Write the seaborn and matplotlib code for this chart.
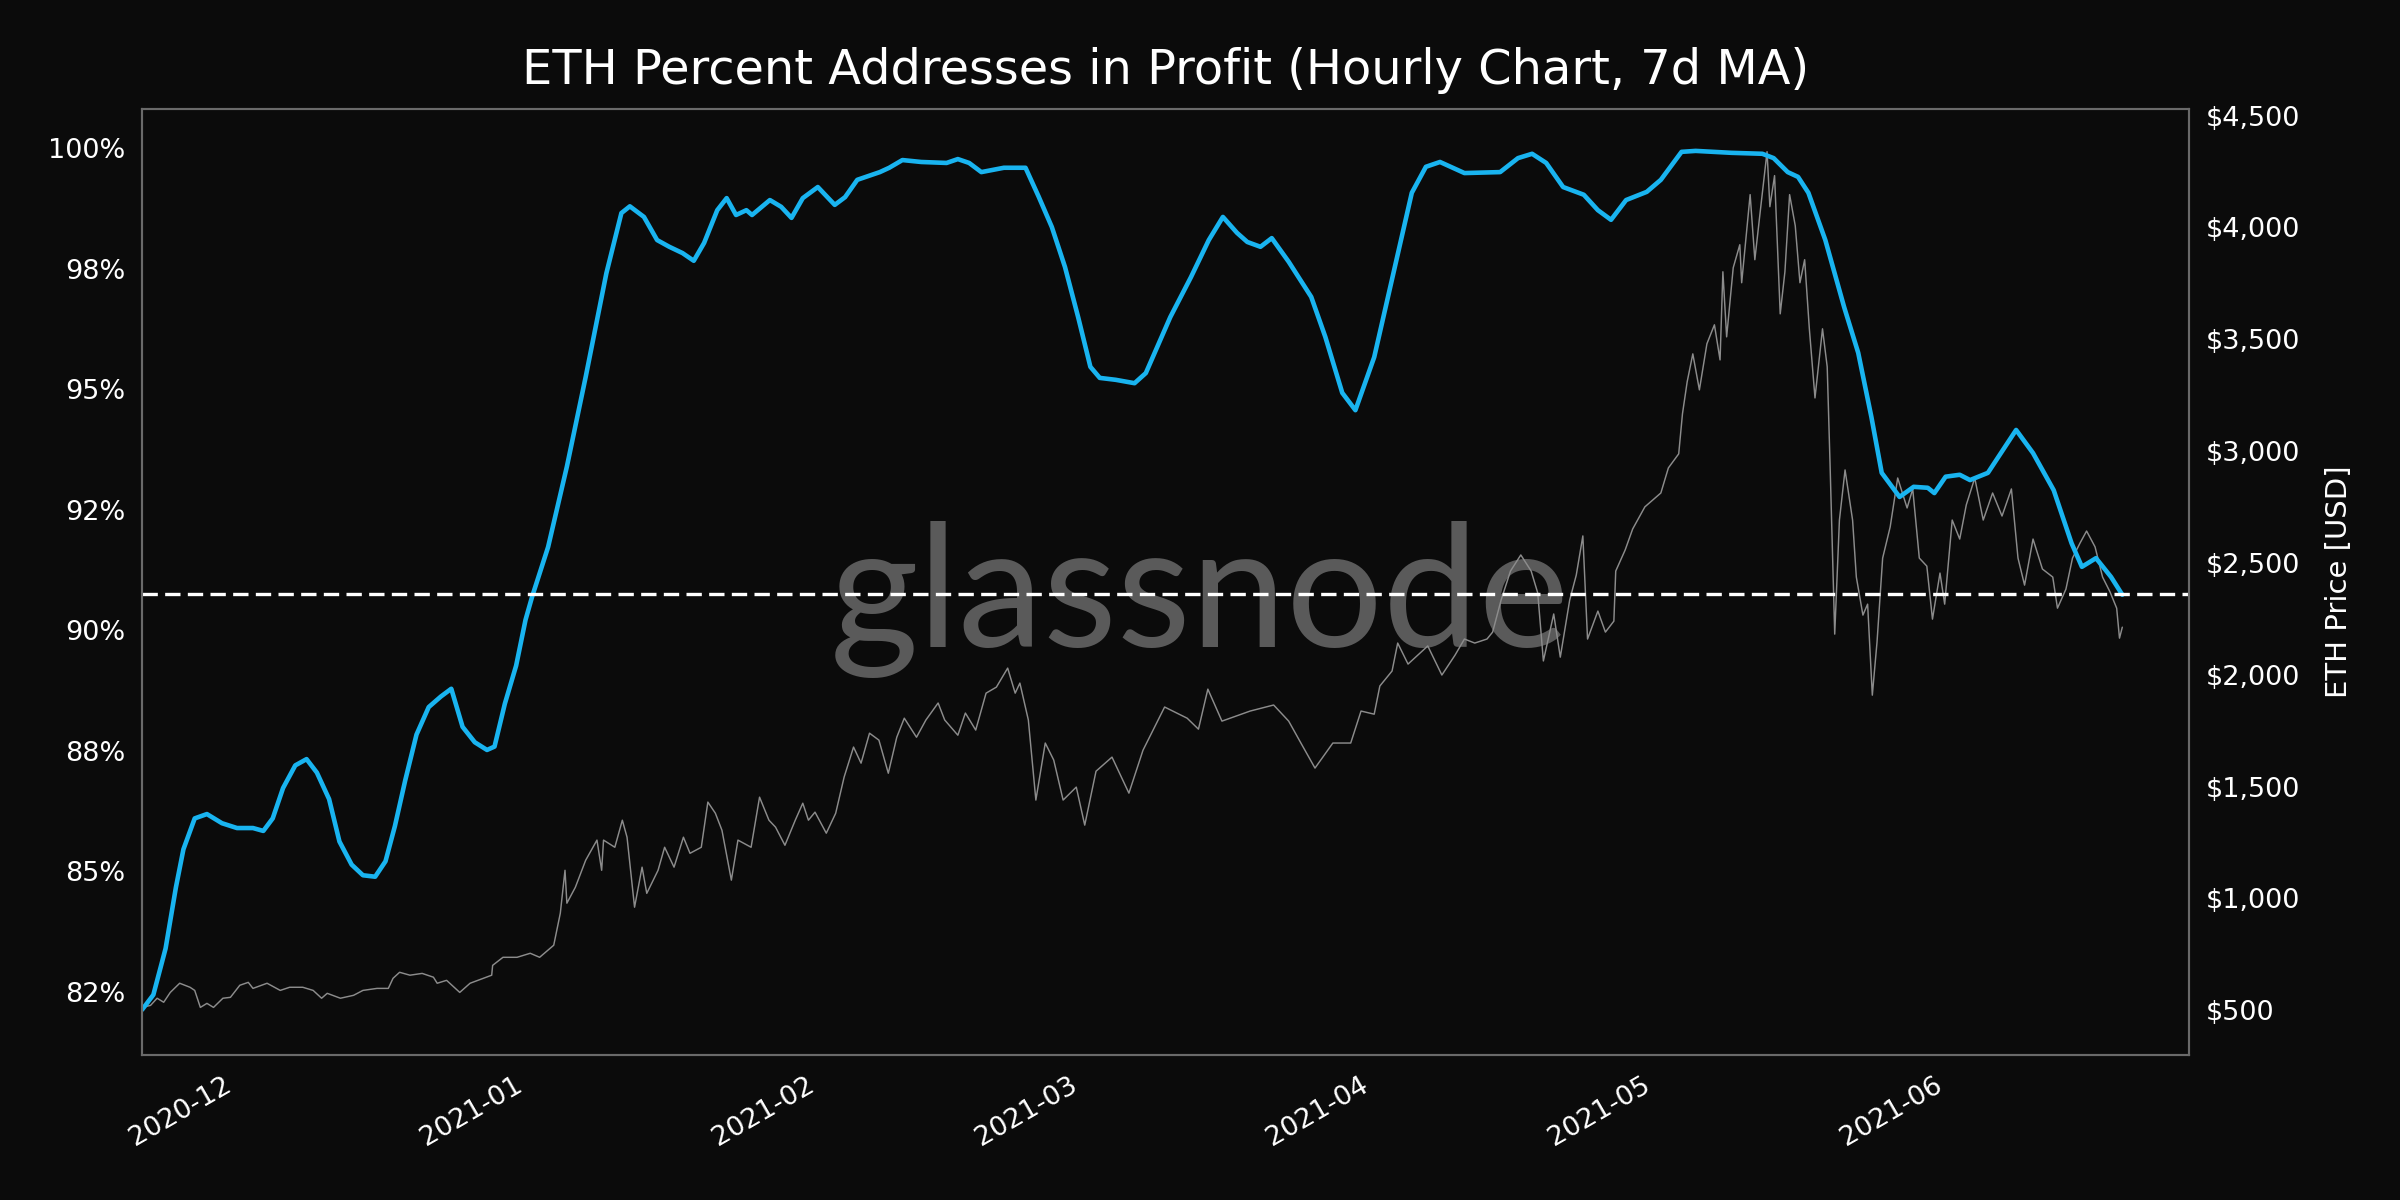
import pandas as pd
import matplotlib.pyplot as plt
import matplotlib.dates as mdates
import matplotlib.ticker as mticker
import seaborn as sns

# data, x given as days since the first point
start = pd.Timestamp('2020-11-21')

pct_days = [0, 1.2, 2.5, 3.6, 4.4, 5.6, 6.9, 8.5, 10.1, 11.8, 12.9, 13.9, 15.0, 16.3, 17.5,
            18.6, 19.9, 21.0, 22.3, 23.5, 24.8, 25.9, 26.9, 28.0, 29.2, 30.5, 31.8, 32.9,
            34.1, 35.4, 36.7, 37.5, 38.6, 39.8, 40.8, 41.5, 43.2, 45.2, 47.2, 49.4, 51.0,
            51.9, 53.4, 54.8, 56.1, 57.5, 58.7, 59.8, 61.2, 62.2, 63.2, 64.3, 64.9, 66.8,
            68.0, 69.1, 70.3, 71.9, 73.7, 74.8, 76.1, 78.5, 79.5, 80.9, 82.9, 85.6, 86.8,
            88.0, 89.3, 91.7, 94.0, 95.4, 96.8, 98.2, 99.6, 100.9, 101.9, 103.6, 105.6,
            106.8, 109.4, 111.6, 113.5, 115.0, 116.5, 117.6, 119.0, 120.2, 122.0, 124.4,
            125.9, 127.7, 129.1, 131.1, 133.3, 135.1, 136.6, 138.1, 140.7, 144.5, 146.4,
            147.9, 149.4, 151.2, 153.4, 154.9, 156.3, 157.9, 160.1, 161.6, 163.8, 165.3,
            169.1, 172.4, 173.6, 175.1, 176.2, 177.3, 179.1, 181.1, 182.6, 184.0, 185.1,
            187.0, 188.5, 190.0, 190.7, 191.9, 193.4, 194.5, 196.4, 199.4, 201.2, 203.4,
            205.3, 206.4, 207.9, 209.5, 210.7]
pct_values = [82.13, 82.44, 83.4, 84.67, 85.46, 86.1, 86.19, 86.0, 85.9, 85.9, 85.84, 86.1,
              86.73, 87.2, 87.33, 87.05, 86.5, 85.62, 85.14, 84.92, 84.89, 85.21, 85.94,
              86.89, 87.84, 88.41, 88.63, 88.79, 88.0, 87.68, 87.52, 87.59, 88.48, 89.27,
              90.22, 90.7, 91.73, 93.4, 95.26, 97.41, 98.66, 98.8, 98.58, 98.1, 97.96,
              97.83, 97.67, 98.04, 98.72, 98.97, 98.62, 98.72, 98.62, 98.93, 98.79, 98.56,
              98.97, 99.2, 98.83, 98.99, 99.35, 99.51, 99.6, 99.76, 99.72, 99.7, 99.78,
              99.7, 99.51, 99.6, 99.6, 99.0, 98.37, 97.54, 96.5, 95.47, 95.24, 95.2, 95.13,
              95.34, 96.5, 97.33, 98.1, 98.58, 98.25, 98.06, 97.96, 98.14, 97.65, 96.92,
              96.09, 94.93, 94.57, 95.67, 97.54, 99.08, 99.62, 99.72, 99.49, 99.51, 99.8,
              99.89, 99.7, 99.2, 99.04, 98.72, 98.52, 98.93, 99.1, 99.35, 99.93, 99.95,
              99.91, 99.89, 99.8, 99.51, 99.41, 99.08, 98.1, 96.71, 95.76, 94.43, 93.27,
              92.77, 92.98, 92.96, 92.85, 93.19, 93.23, 93.12, 93.27, 94.16, 93.68, 92.91,
              91.81, 91.32, 91.5, 91.11, 90.74]

price_days = [0, 0.9, 1.6, 2.3, 3.0, 4.0, 5.1, 5.6, 6.2, 6.9, 7.6, 8.6, 9.4, 10.4, 11.3, 11.8,
              13.3, 14.7, 15.7, 17.1, 18.2, 19.1, 19.7, 21.1, 22.5, 23.5, 25.0, 26.2, 26.7,
              27.4, 28.5, 29.8, 31.0, 31.4, 32.4, 33.8, 34.9, 36.3, 37.2, 37.3, 38.4, 39.9,
              41.3, 42.3, 43.8, 44.5, 45.0, 45.2, 46.1, 47.2, 48.4, 48.9, 49.1, 50.3, 51.1,
              51.6, 52.4, 53.2, 53.7, 54.9, 55.6, 56.6, 57.6, 58.3, 59.5, 60.2, 61.0, 61.7,
              62.7, 63.4, 64.8, 65.7, 66.7, 67.4, 68.4, 69.5, 70.3, 70.9, 71.6, 72.8, 73.8,
              74.7, 75.7, 76.5, 77.4, 78.4, 79.4, 80.3, 81.1, 82.4, 83.4, 84.7, 85.4, 86.8,
              87.6, 88.7, 89.8, 90.9, 92.1, 92.9, 93.4, 94.3, 95.1, 96.1, 97.0, 98.0, 99.4,
              100.3, 101.5, 103.2, 105.0, 106.5, 108.8, 111.2, 112.4, 113.4, 114.9, 117.9,
              120.4, 122.0, 123.3, 124.8, 126.7, 128.6, 129.7, 131.1, 131.7, 133.0, 133.6,
              134.7, 136.8, 138.3, 139.7, 140.7, 141.8, 143.1, 143.7, 144.6, 145.6, 146.7,
              147.8, 148.5, 149.1, 150.2, 150.9, 151.9, 152.6, 153.3, 153.8, 154.9, 155.7,
              156.6, 156.8, 157.8, 158.6, 159.9, 161.6, 162.4, 163.5, 163.9, 164.4, 165.0,
              165.7, 166.5, 167.3, 167.9, 168.2, 168.6, 169.3, 170.0, 170.2, 171.1, 171.6,
              172.1, 172.9, 173.2, 173.7, 174.3, 174.8, 175.3, 175.9, 176.4, 176.9, 177.4,
              178.0, 178.8, 179.3, 179.6, 180.1, 180.6, 181.2, 182.0, 182.4, 183.1, 183.6,
              184.1, 184.6, 185.2, 186.0, 186.8, 187.8, 188.4, 189.1, 189.9, 190.5, 191.3,
              191.8, 192.6, 193.4, 194.1, 195.0, 195.9, 196.9, 197.9, 198.9, 199.6, 200.3,
              201.2, 202.2, 203.3, 203.8, 204.7, 205.4, 206.2, 206.9, 207.8, 208.6, 209.4,
              210.1, 210.4, 210.7]
price_values = [513, 522, 554, 536, 580, 621, 603, 589, 513, 531, 513, 554, 558, 612, 625, 598,
                621, 589, 603, 603, 589, 554, 576, 554, 567, 589, 598, 598, 643, 670, 657,
                665, 648, 621, 634, 580, 621, 643, 657, 701, 737, 737, 755, 737, 791, 934,
                1126, 979, 1050, 1171, 1261, 1126, 1261, 1229, 1350, 1274, 961, 1140, 1023,
                1126, 1229, 1140, 1274, 1202, 1229, 1431, 1381, 1305, 1082, 1261, 1229, 1453,
                1350, 1319, 1238, 1350, 1426, 1350, 1386, 1292, 1381, 1543, 1677, 1605, 1739,
                1708, 1560, 1721, 1806, 1721, 1798, 1874, 1798, 1730, 1829, 1753, 1918, 1945,
                2030, 1918, 1963, 1798, 1440, 1695, 1619, 1440, 1498, 1328, 1569, 1632, 1471,
                1663, 1856, 1806, 1757, 1936, 1793, 1838, 1865, 1793, 1695, 1583, 1695, 1695,
                1838, 1824, 1950, 2017, 2142, 2048, 2129, 1999, 2088, 2160, 2142, 2160, 2191,
                2334, 2464, 2536, 2464, 2366, 2062, 2272, 2079, 2334, 2446, 2621, 2160, 2285,
                2191, 2240, 2464, 2558, 2652, 2751, 2813, 2925, 2988, 3167, 3310, 3435, 3274,
                3480, 3565, 3408, 3802, 3511, 3820, 3923, 3753, 4147, 3856, 4044, 4339, 4093,
                4232, 3614, 3802, 4147, 4008, 3753, 3856, 3547, 3238, 3547, 3377, 2947, 2182,
                2692, 2916, 2692, 2437, 2267, 2316, 1909, 2146, 2522, 2661, 2880, 2746, 2831,
                2522, 2486, 2249, 2455, 2316, 2692, 2607, 2760, 2880, 2692, 2813, 2710, 2831,
                2522, 2401, 2607, 2473, 2437, 2298, 2383, 2522, 2589, 2643, 2572, 2437, 2370,
                2298, 2164, 2213]

threshold = 90.75

pct_df = pd.DataFrame({'date': start + pd.to_timedelta(pct_days, unit='D'), 'pct': pct_values})
price_df = pd.DataFrame({'date': start + pd.to_timedelta(price_days, unit='D'), 'price': price_values})

sns.set_style('dark')
plt.rcParams['font.family'] = ['DejaVu Sans']

bg = '#0b0b0b'
fig = plt.figure(figsize=(16, 8), dpi=150, facecolor=bg)
ax = fig.add_axes([0.0592, 0.1208, 0.8529, 0.7884])
ax2 = ax.twinx()
ax.set_zorder(ax2.get_zorder() + 1)
ax.patch.set_visible(False)
ax2.set_facecolor(bg)

# price on the right axis, drawn underneath
sns.lineplot(data=price_df, x='date', y='price', ax=ax2, color='#8c8c8c', linewidth=0.7)
ax2.text(0.5, 0.5, 'glassnode', transform=fig.transFigure, ha='center', va='center',
         fontsize=82, family='Lato', color='#5a5a5a', zorder=0)

sns.lineplot(data=pct_df, x='date', y='pct', ax=ax, color='#19b4f0', linewidth=2.2)
ax.axhline(threshold, color='white', linewidth=1.6, dashes=(4.6, 2.2))

ax.set_xlim(start, start + pd.Timedelta(days=217.8))
ax.set_ylim(81.19, 100.82)
ax2.set_ylim(300, 4530)

ax.yaxis.set_major_locator(mticker.MultipleLocator(2.5))
ax.yaxis.set_major_formatter(mticker.FuncFormatter(lambda v, p: f'{v:.0f}%'))
ax2.yaxis.set_major_locator(mticker.MultipleLocator(500))
ax2.yaxis.set_major_formatter(mticker.FuncFormatter(lambda v, p: f'${v:,.0f}'))
ax.xaxis.set_major_locator(mdates.MonthLocator())
ax.xaxis.set_major_formatter(mdates.DateFormatter('%Y-%m'))

for a in (ax, ax2):
    a.tick_params(colors='white', labelsize=13, length=0, pad=8)
    a.grid(False)
    for s in a.spines.values():
        s.set_color('#6a6a6a')
        s.set_linewidth(1.0)
plt.setp(ax.get_xticklabels(), rotation=30, ha='right')

ax.set_xlabel('')
ax.set_ylabel('')
ax2.set_xlabel('')
ax2.set_ylabel('ETH Price [USD]', color='white', fontsize=14, labelpad=12)
ax.set_title('ETH Percent Addresses in Profit (Hourly Chart, 7d MA)', color='white',
             fontsize=23, pad=12)

fig.savefig('out.png', dpi=150, facecolor=bg)
